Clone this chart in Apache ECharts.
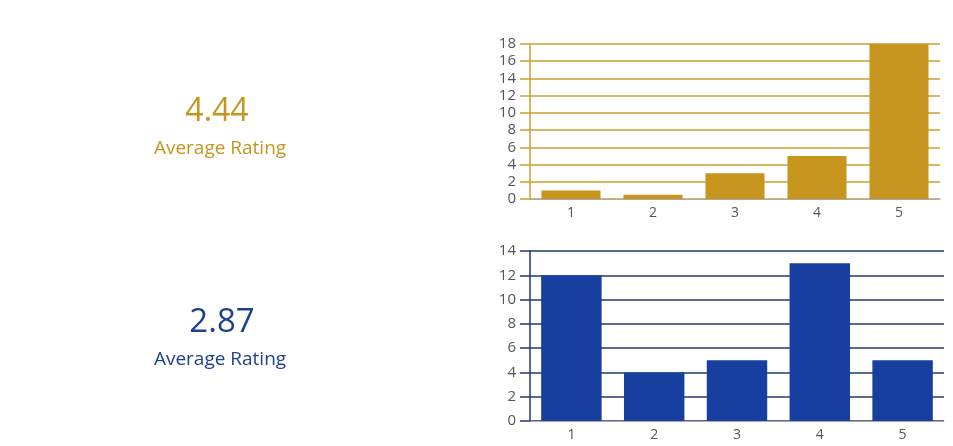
<!DOCTYPE html>
<html>
<head>
<meta charset="utf-8">
<script src="https://cdn.jsdelivr.net/npm/echarts@6/dist/echarts.min.js"></script>
<style>
html,body{margin:0;padding:0;background:#fff;}
#c{width:953px;height:446px;}
</style>
</head>
<body>
<div id="c"></div>
<script>
var categories = ['1', '2', '3', '4', '5'];
var topValues = [1, 0.5, 3, 5, 18];
var bottomValues = [12, 4, 5, 13, 5];
var topAverage = '4.44';
var bottomAverage = '2.87';
var averageLabel = 'Average Rating';

var gold = '#C8961E';
var goldLine = '#C9A030';
var blue = '#173FA0';
var blueLine = '#1F3A72';
var font = '"Open Sans", "Noto Sans", sans-serif';

var chart = echarts.init(document.getElementById('c'));

function xAxis(idx) {
  return {
    type: 'category', gridIndex: idx, data: categories,
    axisLine: {show: true, lineStyle: {color: '#AAAAAA', width: 1}},
    axisTick: {show: false},
    axisLabel: {color: '#555', fontSize: 14, fontFamily: font, margin: 7}
  };
}
function yAxis(idx, max, lineColor) {
  return {
    type: 'value', gridIndex: idx, min: 0, max: max, interval: 2,
    axisLine: {show: true, lineStyle: {color: lineColor, width: 1.5}},
    axisTick: {show: true, length: 10, lineStyle: {color: lineColor, width: 1.5}},
    splitLine: {show: true, lineStyle: {color: lineColor, width: 1.5}},
    axisLabel: {color: '#555', fontSize: 15, fontFamily: font, margin: 14}
  };
}

chart.setOption({
  animation: false,
  backgroundColor: '#fff',
  grid: [
    {left: 530, top: 44, width: 410, height: 155},
    {left: 530, top: 251, width: 414, height: 170}
  ],
  xAxis: [xAxis(0), xAxis(1)],
  yAxis: [yAxis(0, 18, goldLine), yAxis(1, 14, blueLine)],
  series: [
    {type: 'bar', xAxisIndex: 0, yAxisIndex: 0, data: topValues,
     barCategoryGap: '28%', itemStyle: {color: gold}},
    {type: 'bar', xAxisIndex: 1, yAxisIndex: 1, data: bottomValues,
     barCategoryGap: '27%', itemStyle: {color: blue}}
  ],
  graphic: [
    {type: 'text', x: 217, y: 112, style: {text: topAverage, fill: '#C4961E', font: '32px ' + font, textAlign: 'center', textVerticalAlign: 'middle'}},
    {type: 'text', x: 220, y: 149, style: {text: averageLabel, fill: '#C4961E', font: '19px ' + font, textAlign: 'center', textVerticalAlign: 'middle'}},
    {type: 'text', x: 222, y: 323, style: {text: bottomAverage, fill: '#1F3F8F', font: '33px ' + font, textAlign: 'center', textVerticalAlign: 'middle'}},
    {type: 'text', x: 220, y: 360, style: {text: averageLabel, fill: '#1F3F8F', font: '19px ' + font, textAlign: 'center', textVerticalAlign: 'middle'}}
  ]
});
</script>
</body>
</html>
